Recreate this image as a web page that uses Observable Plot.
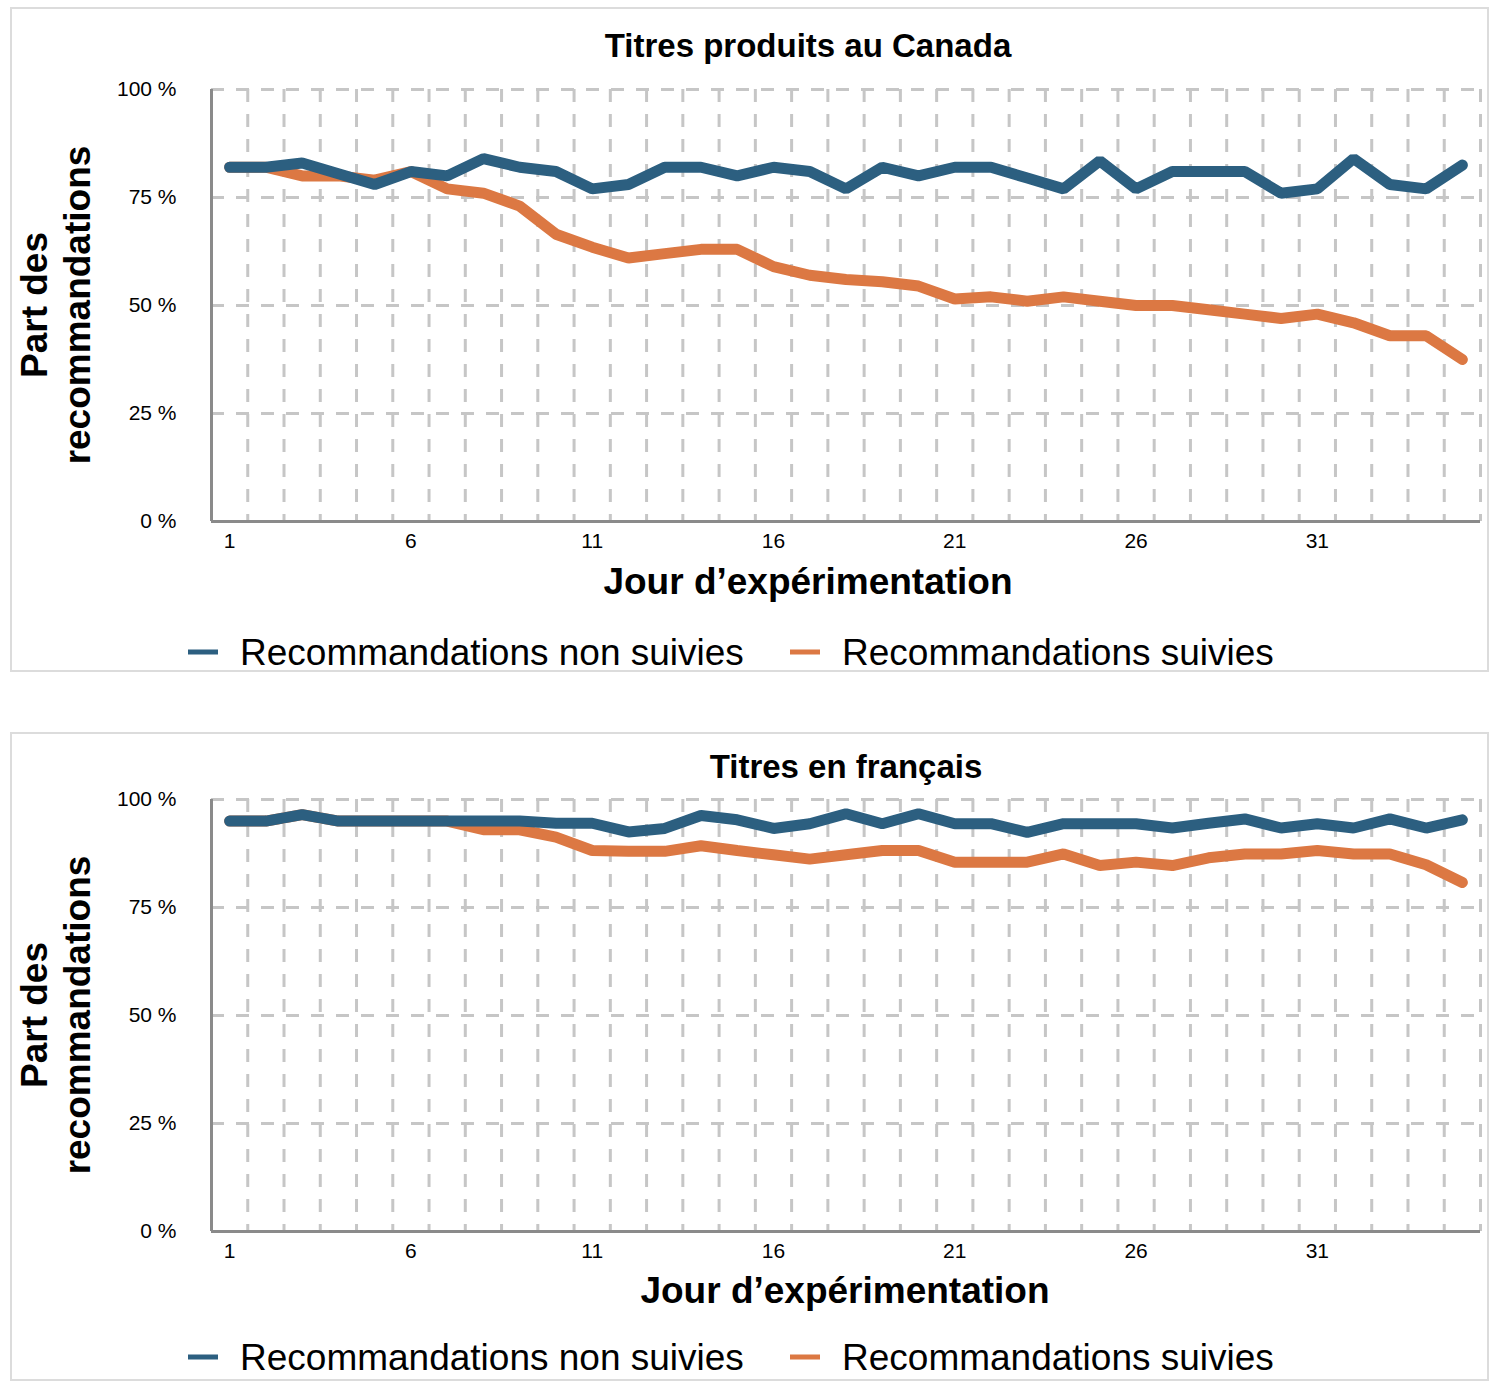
<!DOCTYPE html>
<html>
<head>
<meta charset="utf-8">
<script src="https://cdn.jsdelivr.net/npm/d3@7"></script>
<script src="https://cdn.jsdelivr.net/npm/@observablehq/plot@0.6"></script>
<style>
  html, body { margin: 0; padding: 0; background: #fff; }
  body { width: 1502px; height: 1390px; position: relative; font-family: "Liberation Sans", Arial, Helvetica, sans-serif; color: #000; overflow: hidden; }
  .box { position: absolute; left: 10px; width: 1475px; border: 2px solid #dcdcdc; box-sizing: content-box; }
  .t { position: absolute; white-space: nowrap; line-height: 1; transform: translate(-50%, -50%); }
  .title { font-weight: bold; font-size: 33px; }
  .xtitle { font-weight: bold; font-size: 37px; }
  .ytitle { position: absolute; font-weight: bold; font-size: 37px; line-height: 43px; text-align: center; white-space: nowrap; width: 400px; transform: translate(-50%, -50%) rotate(-90deg); }
  .leg { position: absolute; font-size: 37px; line-height: 1; white-space: nowrap; transform: translateY(-50%); }
  .sw { position: absolute; width: 30px; height: 5px; transform: translateY(-50%); }
  .chart { position: absolute; left: 0; }
</style>
</head>
<body>
<script>
// ---- Data ----
const days = [1,2,3,4,5,6,7,8,9,10,11,12,13,14,15,16,17,18,19,20,21,22,23,24,25,26,27,28,29,30,31,32,33,34,35];
const canadaNonSuivies = [82,82,83,80.5,78,81,80,84,82,81,77,78,82,82,80,82,81,77,82,80,82,82,79.5,77,83.5,77,81,81,81,76,77,84,78,77,82.5];
const canadaSuivies    = [82,82,80,80,79,81,77,76,73,66.5,63.5,61,62,63,63,59,57,56,55.5,54.5,51.5,52,51,52,51,50,50,49,48,47,48,46,43,43,37.5];
const francaisNonSuivies = [95,95,96.5,95,95,95,95,95,95,94.5,94.5,92.5,93.3,96.3,95.3,93.3,94.4,96.7,94.4,96.7,94.4,94.4,92.4,94.4,94.4,94.4,93.4,94.5,95.5,93.4,94.4,93.4,95.5,93.4,95.3];
const francaisSuivies    = [95,95,96.5,95,95,95,95,93,93,91.3,88.2,88,88,89.3,88.2,87.2,86.2,87.2,88.2,88.2,85.5,85.5,85.5,87.4,84.7,85.5,84.7,86.5,87.4,87.4,88.2,87.4,87.4,84.9,80.8];
const yTicks = [0, 25, 50, 75, 100];
const xTicks = [1, 6, 11, 16, 21, 26, 31];
const seriesNames = ["Recommandations non suivies", "Recommandations suivies"];
const colors = ["#2c5f80", "#dc7843"];
const panelTitles = ["Titres produits au Canada", "Titres en français"];
const xLabel = "Jour d\u2019expérimentation";
const yLabel = ["Part des", "recommandations"];

function el(cls, css, html) {
  const d = document.createElement("div");
  d.className = cls;
  Object.assign(d.style, css);
  if (html !== undefined) d.innerHTML = html;
  document.body.appendChild(d);
  return d;
}

function makeChart(nonSuivies, suivies) {
  const rows = (vals) => days.map((d, i) => ({day: d, value: vals[i]}));
  const boundaries = days.map(d => d + 0.5);
  return Plot.plot({
    width: 1502,
    height: 482,
    marginLeft: 211,
    marginRight: 22,
    marginTop: 10,
    marginBottom: 40,
    style: {fontFamily: "'Liberation Sans', Arial, Helvetica, sans-serif", fontSize: "21px", color: "#000", background: "transparent", overflow: "visible"},
    x: {domain: [0.5, 35.5], type: "linear"},
    y: {domain: [0, 100]},
    marks: [
      Plot.gridY([25, 50, 75, 100], {stroke: "#c6c6c6", strokeOpacity: 1, strokeWidth: 3, strokeDasharray: "13,12"}),
      Plot.gridX(boundaries, {stroke: "#c6c6c6", strokeOpacity: 1, strokeWidth: 3, strokeDasharray: "13,12"}),
      Plot.axisY(yTicks, {tickSize: 0, tickPadding: 35, tickFormat: d => d + " %", label: null, fontSize: 21}),
      Plot.axisX(xTicks, {tickSize: 0, tickPadding: 12, tickFormat: d => String(d), label: null, fontSize: 21}),
      Plot.ruleX([0.5], {stroke: "#8a8a8a", strokeWidth: 3}),
      Plot.ruleY([0], {stroke: "#8a8a8a", strokeWidth: 3}),
      Plot.line(rows(suivies), {x: "day", y: "value", stroke: colors[1], strokeWidth: 11, strokeLinejoin: "miter"}),
      Plot.line(rows(nonSuivies), {x: "day", y: "value", stroke: colors[0], strokeWidth: 11, strokeLinejoin: "miter"})
    ]
  });
}

const panels = [
  {top: 7, h: 661, data: [canadaNonSuivies, canadaSuivies], plotTop: 89, plotBottom: 521, titleX: 808, titleY: 45, xtX: 808, legY: 652},
  {top: 732, h: 645, data: [francaisNonSuivies, francaisSuivies], plotTop: 799, plotBottom: 1230, titleX: 846, titleY: 766, xtX: 845, legY: 1357}
];

panels.forEach((p, k) => {
  el("box", {top: p.top + "px", height: p.h + "px"});
  const svg = makeChart(p.data[0], p.data[1]);
  svg.classList.add("chart");
  svg.style.position = "absolute";
  svg.style.top = (p.plotTop - 10) + "px";
  svg.style.left = "0px";
  document.body.appendChild(svg);
  el("t title", {left: p.titleX + "px", top: p.titleY + "px"}, panelTitles[k]);
  el("t xtitle", {left: p.xtX + "px", top: (p.plotBottom + 60) + "px"}, xLabel);
  el("ytitle", {left: "56px", top: ((p.plotTop + p.plotBottom) / 2 + 0) + "px"}, yLabel.join("<br>"));
  // legend
  el("sw", {left: "188px", top: p.legY + "px", background: colors[0]});
  el("leg", {left: "240px", top: p.legY + "px"}, seriesNames[0]);
  el("sw", {left: "790px", top: p.legY + "px", background: colors[1]});
  el("leg", {left: "842px", top: p.legY + "px"}, seriesNames[1]);
});
</script>
</body>
</html>
